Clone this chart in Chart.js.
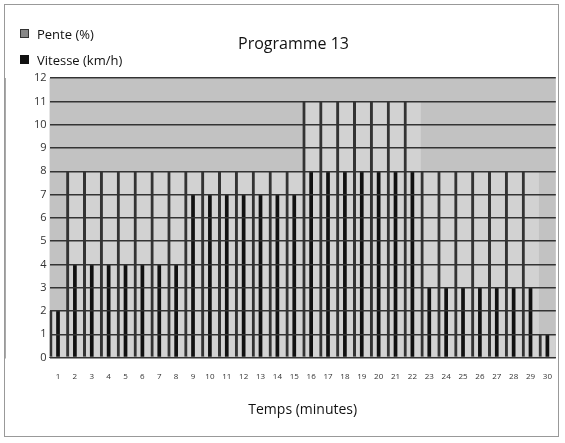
<!DOCTYPE html>
<html><head><meta charset="utf-8">
<script src="https://cdn.jsdelivr.net/npm/chart.js@4"></script>
<style>html,body{margin:0;background:#fff;font-family:'Open Sans',sans-serif}#w{position:absolute;left:4px;top:4px;width:555px;height:433px;border:1px solid #999;box-sizing:border-box}
.lg{position:absolute;left:20px;font-size:13px;color:#111}.lg i{display:inline-block;width:7px;height:7px;margin-right:8px;vertical-align:1px}</style>
</head><body><div id="w"><canvas id="c"></canvas></div>
<div class="lg" style="top:25px"><i style="background:#888;border:1px solid #333"></i>Pente (%)</div>
<div class="lg" style="top:51px"><i style="background:#111;border:1px solid #111"></i>Vitesse (km/h)</div>
<script>
const minutes = ["1","2","3","4","5","6","7","8","9","10","11","12","13","14","15","16","17","18","19","20","21","22","23","24","25","26","27","28","29","30"];
const pente = [2,8,8,8,8,8,8,8,8,8,8,8,8,8,8,11,11,11,11,11,11,11,8,8,8,8,8,8,8,1];
const vitesse = [2,4,4,4,4,4,4,4,7,7,7,7,7,7,7,8,8,8,8,8,8,8,3,3,3,3,3,3,3,1];
const bgPlugin={id:'bg',beforeDraw(ch){const a=ch.chartArea,c=ch.ctx;c.save();c.fillStyle='#c2c2c2';c.fillRect(a.left,a.top,a.right-a.left,a.bottom-a.top);c.restore();}};
new Chart(document.getElementById('c'),{
 type:'bar',
 data:{labels:minutes,datasets:[
  {label:'Vitesse (km/h)',data:vitesse,backgroundColor:'#111',barPercentage:0.22,categoryPercentage:1,grouped:false,order:0},
  {label:'Pente (%)',data:pente,backgroundColor:'#d2d2d2',borderColor:'#333',borderWidth:{left:3,right:0,top:0,bottom:0},borderSkipped:false,barPercentage:1,categoryPercentage:1,grouped:false,order:1}
 ]},
 options:{responsive:true,maintainAspectRatio:false,animation:false,
  layout:{padding:{left:26,right:2,top:0,bottom:14}},
  plugins:{
   title:{display:true,text:'Programme 13',color:'#111',font:{family:'Open Sans',size:16,weight:'normal'},padding:{top:30,bottom:24}},
   legend:{display:false},
   tooltip:{enabled:false}},
  scales:{
   x:{grid:{display:false},border:{color:'#555'},ticks:{color:'#333',font:{family:'Open Sans',size:8},maxRotation:0,autoSkip:false,padding:6},
      title:{display:true,text:'Temps (minutes)',color:'#111',font:{family:'Open Sans',size:14},padding:{top:14}}},
   y:{min:0,max:12,ticks:{stepSize:1,color:'#333',font:{family:'Open Sans',size:11}},grid:{color:'#333',lineWidth:1.5,z:1,drawTicks:false},border:{color:'#555'}}
  }},
 plugins:[bgPlugin]
});
</script></body></html>
